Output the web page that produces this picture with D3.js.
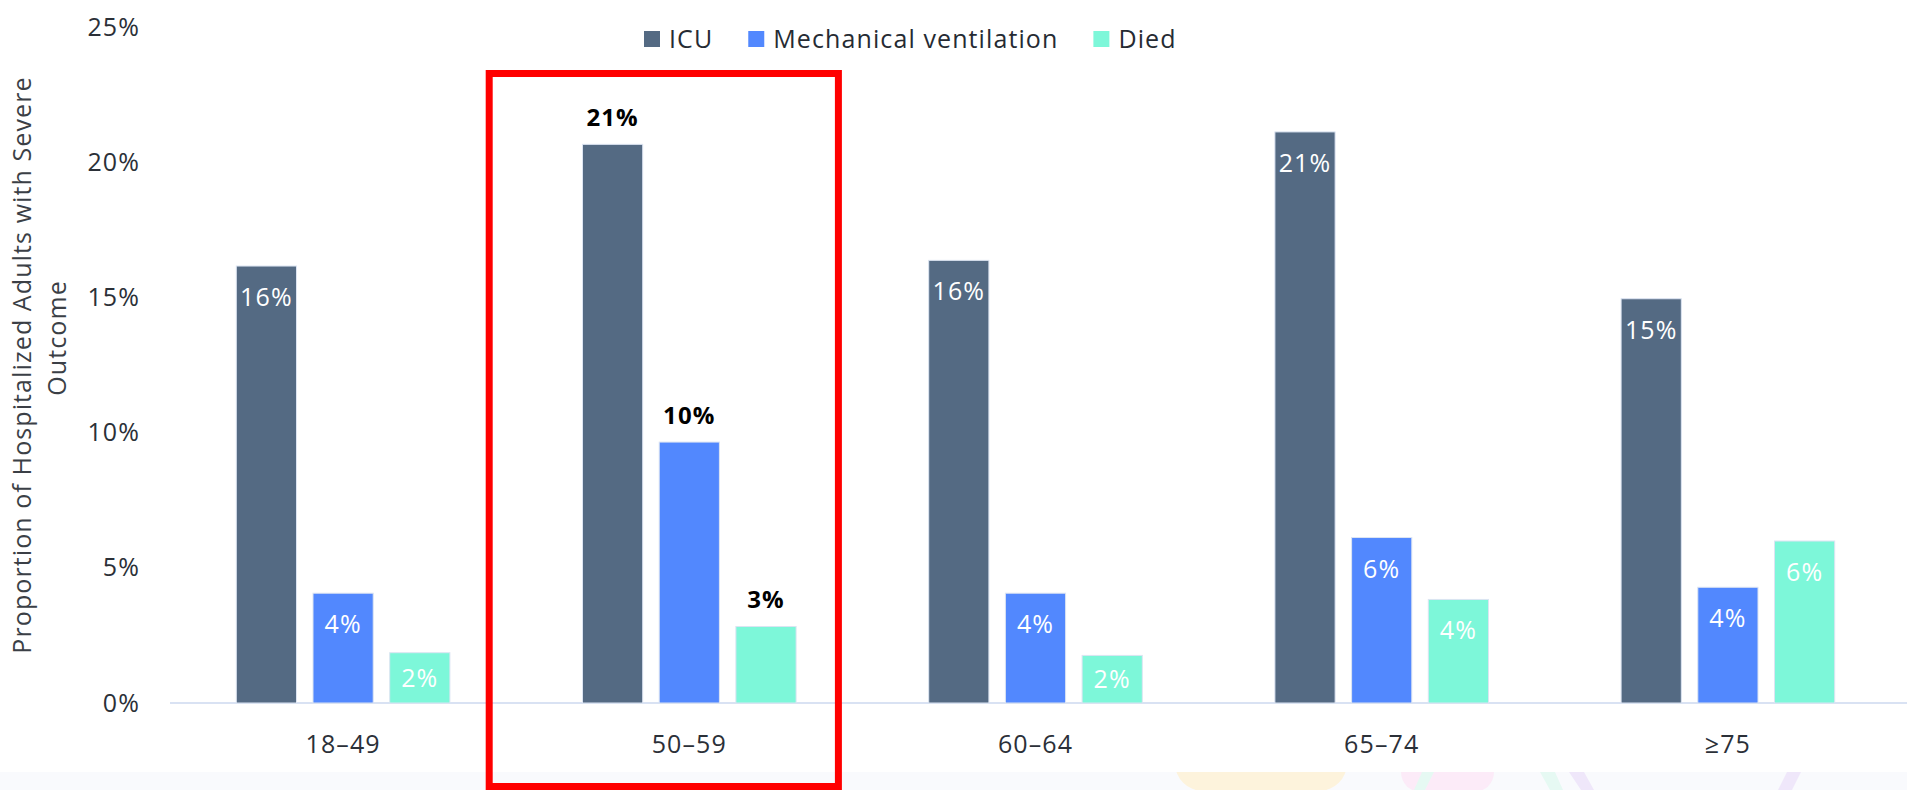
<!DOCTYPE html>
<html>
<head>
<meta charset="utf-8">
<script src="https://cdn.jsdelivr.net/npm/d3@7"></script>
<style>
  body { margin: 0; background: #ffffff; }
  svg { display: block; font-family: "Open Sans", "Noto Sans", sans-serif; }
  svg text { letter-spacing: 1.1px; }
</style>
</head>
<body>
<svg id="severe-chart"></svg>
<script>
// Chart data
const categories = ["18–49", "50–59", "60–64", "65–74", "≥75"];
const seriesNames = ["ICU", "Mechanical ventilation", "Died"];
const icuValues = [16.16, 20.66, 16.37, 21.12, 14.95];
const ventValues = [4.06, 9.65, 4.06, 6.12, 4.28];
const diedValues = [1.86, 2.83, 1.76, 3.83, 5.99];
const yTicks = [0, 5, 10, 15, 20, 25];
const seriesColors = ["#546a83", "#5288fe", "#7df7d9"];
const highlightCategory = "50–59";
const titleLines = ["Proportion of Hospitalized Adults with Severe", "Outcome"];

const W = 1907, H = 790;
const margin = { top: 27, right: 3, bottom: 87, left: 170 };
const width = W - margin.left - margin.right;
const height = H - margin.top - margin.bottom;

const root = d3.select("#severe-chart")
    .attr("width", W)
    .attr("height", H);

// Light band at the bottom with faint background shapes
const deco = root.append("g");
deco.append("rect")
    .attr("x", 0).attr("y", 772)
    .attr("width", W).attr("height", H - 772)
    .attr("fill", "#f9fafd");
deco.append("clipPath").attr("id", "band-clip")
    .append("rect").attr("x", 0).attr("y", 772).attr("width", W).attr("height", H - 772);
const shapes = deco.append("g").attr("clip-path", "url(#band-clip)");
shapes.append("rect")
    .attr("x", 1175).attr("y", 700).attr("width", 172).attr("height", 91)
    .attr("rx", 28).attr("fill", "#fdf3dc");
shapes.append("rect")
    .attr("x", 1401).attr("y", 700).attr("width", 93).attr("height", 92)
    .attr("rx", 20).attr("fill", "#fcebf8");
shapes.append("path")
    .attr("d", "M1422,772 L1434,772 L1425,790 L1414,790 Z").attr("fill", "#e6f9f3");
shapes.append("path")
    .attr("d", "M1540,772 L1555,772 L1563,790 L1550,790 Z").attr("fill", "#e6f9f3");
shapes.append("path")
    .attr("d", "M1569,772 L1584,772 L1594,790 L1581,790 Z").attr("fill", "#efe7fa");
shapes.append("path")
    .attr("d", "M1787,772 L1801,772 L1792,790 L1778,790 Z").attr("fill", "#efe7fa");

const svg = root.append("g")
    .attr("transform", "translate(" + margin.left + "," + margin.top + ")");

// Scales
const x0 = d3.scaleBand()
    .domain(categories)
    .range([0, width - 3])
    .paddingInner(0.383)
    .paddingOuter(0.1915);
const x1 = d3.scaleBand()
    .domain(seriesNames)
    .range([0, x0.bandwidth()])
    .paddingInner(0.215);
const y = d3.scaleLinear().domain([0, 25]).range([height, 0]);
const color = d3.scaleOrdinal().domain(seriesNames).range(seriesColors);

// Y axis: labels only
const yAxis = svg.append("g")
    .call(d3.axisLeft(y).tickValues(yTicks).tickFormat(d => d + "%").tickSize(0).tickPadding(30));
yAxis.select(".domain").remove();
yAxis.selectAll("text")
    .attr("font-size", 25)
    .attr("font-family", "Open Sans")
    .attr("fill", "#2b3038");

// X axis: labels plus a light baseline
const xAxis = svg.append("g")
    .attr("transform", "translate(0," + height + ")")
    .call(d3.axisBottom(x0).tickSize(0).tickPadding(32));
xAxis.select(".domain").remove();
xAxis.selectAll("text")
    .attr("font-size", 25)
    .attr("font-family", "Open Sans")
    .attr("fill", "#2b3038");
svg.append("line")
    .attr("x1", 0).attr("x2", width + margin.right)
    .attr("y1", height).attr("y2", height)
    .attr("stroke", "#d9e2f3")
    .attr("stroke-width", 2);

// Build rows from the arrays
const rows = categories.map((c, i) => ({
    category: c,
    values: [
        { key: seriesNames[0], value: icuValues[i] },
        { key: seriesNames[1], value: ventValues[i] },
        { key: seriesNames[2], value: diedValues[i] }
    ]
}));

const groups = svg.selectAll(".group")
    .data(rows)
    .enter()
    .append("g")
    .attr("class", "group")
    .attr("transform", d => "translate(" + x0(d.category) + ",0)");

groups.selectAll("rect")
    .data(d => d.values)
    .enter()
    .append("rect")
    .attr("x", d => x1(d.key))
    .attr("y", d => y(d.value))
    .attr("width", x1.bandwidth())
    .attr("height", d => height - y(d.value))
    .attr("fill", d => color(d.key))
    .attr("stroke", "#dce4f2")
    .attr("stroke-width", 1);

// Value labels: inside the bar top, or bold above it for the highlighted group
groups.each(function (row) {
    const hl = row.category === highlightCategory;
    d3.select(this).selectAll(".val")
        .data(row.values)
        .enter()
        .append("text")
        .attr("class", "val")
        .attr("x", d => x1(d.key) + x1.bandwidth() / 2)
        .attr("y", d => {
            const top = y(d.value);
            if (hl) return top - 18;
            return Math.min(top + 31, (top + height) / 2);
        })
        .attr("dy", hl ? 0 : "0.36em")
        .attr("text-anchor", "middle")
        .attr("font-size", hl ? 24 : 25)
        .attr("font-weight", hl ? "bold" : "normal")
        .attr("fill", hl ? "#000000" : "#ffffff")
        .text(d => Math.round(d.value) + "%");
});

// Highlight box round the 50–59 group
const step = x0.step();
const bandStart = x0(highlightCategory) - (step - x0.bandwidth()) / 2;
svg.append("rect")
    .attr("x", bandStart - 27)
    .attr("y", y(25) + 46.5)
    .attr("width", step + 3)
    .attr("height", H - margin.top - 3.5 - (y(25) + 46.5))
    .attr("fill", "none")
    .attr("stroke", "#ff0000")
    .attr("stroke-width", 7);

// Legend
const legend = root.append("g").attr("transform", "translate(644,31)");
let lx = 0;
seriesNames.forEach((name, i) => {
    const item = legend.append("g").attr("transform", "translate(" + lx + ",0)");
    item.append("rect")
        .attr("width", 16).attr("height", 16)
        .attr("fill", seriesColors[i]);
    const t = item.append("text")
        .attr("x", 25).attr("y", 8).attr("dy", "0.36em")
        .attr("font-size", 25)
        .attr("fill", "#262b33")
        .text(name);
    lx += 25 + t.node().getComputedTextLength() + 35;
});

// Y axis title, two rotated lines
const title = root.append("g")
    .attr("transform", "rotate(-90)")
    .attr("font-size", 25)
    .attr("fill", "#3b3f46")
    .attr("text-anchor", "middle");
title.append("text").attr("x", -365).attr("y", 31).text(titleLines[0]);
title.append("text").attr("x", -338).attr("y", 66).text(titleLines[1]);
</script>
</body>
</html>
